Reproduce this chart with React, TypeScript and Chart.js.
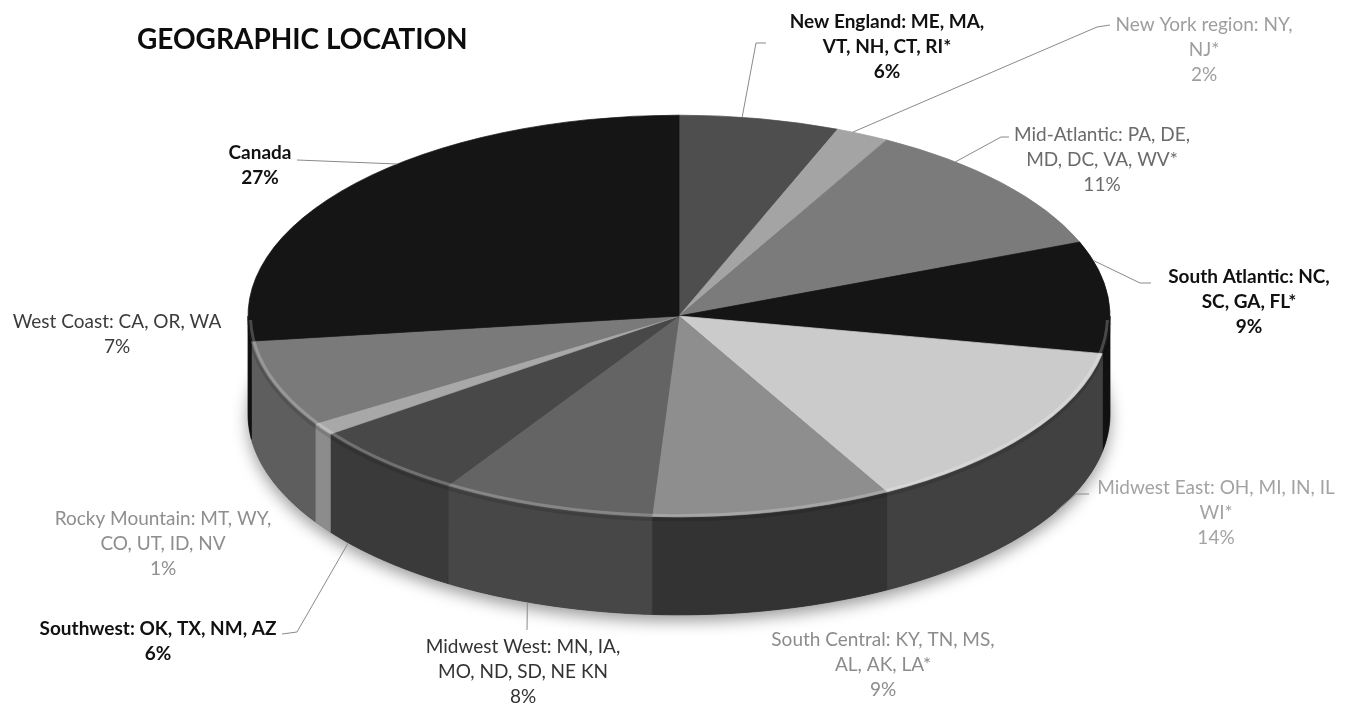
import React, { useEffect, useRef } from 'react';
import { Chart, registerables } from 'chart.js';

Chart.register(...registerables);

// ---------------- data ----------------
const TITLE = 'GEOGRAPHIC LOCATION';

const regions = [
  'New England', 'New York region', 'Mid-Atlantic', 'South Atlantic', 'Midwest East',
  'South Central', 'Midwest West', 'Southwest', 'Rocky Mountain', 'West Coast', 'Canada',
];

const labelLines = [
  ['New England: ME, MA,', 'VT, NH, CT, RI*'],
  ['New York region: NY,', 'NJ*'],
  ['Mid-Atlantic: PA, DE,', 'MD, DC, VA, WV*'],
  ['South Atlantic: NC,', 'SC, GA, FL*'],
  ['Midwest East: OH, MI, IN, IL', 'WI*'],
  ['South Central: KY, TN, MS,', 'AL, AK, LA*'],
  ['Midwest West: MN, IA,', 'MO, ND, SD, NE KN'],
  ['Southwest: OK, TX, NM, AZ'],
  ['Rocky Mountain: MT, WY,', 'CO, UT, ID, NV'],
  ['West Coast: CA, OR, WA'],
  ['Canada'],
];

const shares = [6, 2, 11, 9, 14, 9, 8, 6, 1, 7, 27];

// ---------------- styles ----------------
const topColors = ['#4e4e4e', '#a4a4a4', '#7b7b7b', '#151515', '#cbcbcb', '#8e8e8e', '#646464', '#484848', '#a8a8a8', '#7a7a7a', '#151515'];
const sideColors = ['#3a3a3a', '#7a7a7a', '#505050', '#111111', '#414141', '#333333', '#474747', '#3a3a3a', '#8c8c8c', '#5e5e5e', '#111111'];
const textColors = ['#111111', '#9e9e9e', '#6b6b6b', '#111111', '#a3a3a3', '#8c8c8c', '#333333', '#111111', '#8e8e8e', '#3c3c3c', '#111111'];
const textBold = [true, false, false, true, false, false, false, true, false, false, true];

// label layout: centre x, first line middle y, leader points (label side), rim fraction, bottom rim
const labelLayout = [
  { x: 887, y: 22, leader: [[766, 43], [756, 43]], frac: 0.39, bottom: false },
  { x: 1204, y: 25, leader: [[1110, 25], [1097, 27]], frac: 0.3, bottom: false },
  { x: 1102, y: 135, leader: [[1009, 137], [1001, 137]], frac: 0.28, bottom: false },
  { x: 1249, y: 277, leader: [[1151, 283], [1140, 283]], frac: 0.17, bottom: false },
  { x: 1216, y: 488, leader: [[1089, 494], [1076, 494]], frac: 0.36, bottom: true },
  { x: 883, y: 640, leader: null, frac: 0.5, bottom: true },
  { x: 523, y: 647, leader: [[527, 630]], frac: 0.59, bottom: true },
  { x: 158, y: 629, leader: [[282, 634], [297, 632]], frac: 0.82, bottom: true },
  { x: 163, y: 519, leader: null, frac: 0.5, bottom: true },
  { x: 117, y: 322, leader: null, frac: 0.5, bottom: false },
  { x: 260, y: 153, leader: [[297, 160]], frac: 0.58, bottom: false },
];

const W = 1348;
const H = 705;
const RADIUS = 431;
const SCALE_Y = 0.466;
const DEPTH = 98;
const LINE_H = 25;
const FONT = 'Lato, "Open Sans", sans-serif';

function arcGeom(chart: any) {
  const arcs = chart.getDatasetMeta(0).data as any[];
  if (!arcs.length) return null;
  const p = arcs[0].getProps(['x', 'y', 'outerRadius'], true);
  return { arcs, cx: p.x as number, cy: p.y as number, R: p.outerRadius as number };
}

const pie3d = {
  id: 'pie3d',
  beforeDatasetsDraw(chart: any) {
    const ctx = chart.ctx as CanvasRenderingContext2D;
    const g = arcGeom(chart);
    if (!g) return;
    const { arcs, cx, cy, R } = g;
    const s = SCALE_Y;
    // soft shadow under the pie
    ctx.save();
    ctx.beginPath();
    ctx.ellipse(cx, cy + DEPTH, R, R * s, 0, 0, Math.PI * 2);
    ctx.shadowColor = 'rgba(0,0,0,0.4)';
    ctx.shadowBlur = 16;
    ctx.shadowOffsetY = 6;
    ctx.fillStyle = '#333';
    ctx.fill();
    ctx.restore();
    // sides of the cylinder
    arcs.forEach((arc: any, i: number) => {
      const { startAngle, endAngle } = arc.getProps(['startAngle', 'endAngle'], true);
      const lo = Math.max(startAngle, 0);
      const hi = Math.min(endAngle, Math.PI);
      if (hi <= lo) return;
      const N = 80;
      ctx.beginPath();
      for (let k = 0; k <= N; k++) {
        const t = lo + ((hi - lo) * k) / N;
        const px = cx + R * Math.cos(t);
        const py = cy + s * R * Math.sin(t);
        if (k === 0) ctx.moveTo(px, py);
        else ctx.lineTo(px, py);
      }
      for (let k = N; k >= 0; k--) {
        const t = lo + ((hi - lo) * k) / N;
        ctx.lineTo(cx + R * Math.cos(t), cy + s * R * Math.sin(t) + DEPTH);
      }
      ctx.closePath();
      ctx.fillStyle = sideColors[i];
      ctx.fill();
      ctx.strokeStyle = sideColors[i];
      ctx.lineWidth = 0.8;
      ctx.stroke();
    });
    // squash the library's arcs into an ellipse (top face)
    ctx.save();
    ctx.translate(cx, cy);
    ctx.scale(1, s);
    ctx.translate(-cx, -cy);
  },
  afterDatasetsDraw(chart: any) {
    const ctx = chart.ctx as CanvasRenderingContext2D;
    ctx.restore();
    const g = arcGeom(chart);
    if (!g) return;
    const { cx, cy, R } = g;
    // bevel highlight on the front rim
    ctx.save();
    ctx.beginPath();
    ctx.ellipse(cx, cy, R - 2.5, (R - 2.5) * SCALE_Y, 0, 0.02, Math.PI - 0.02);
    ctx.strokeStyle = 'rgba(255,255,255,0.22)';
    ctx.lineWidth = 3;
    ctx.stroke();
    ctx.beginPath();
    ctx.ellipse(cx, cy + 3, R, R * SCALE_Y, 0, 0.02, Math.PI - 0.02);
    ctx.strokeStyle = 'rgba(0,0,0,0.12)';
    ctx.lineWidth = 3;
    ctx.stroke();
    ctx.restore();
  },
  afterDraw(chart: any) {
    const ctx = chart.ctx as CanvasRenderingContext2D;
    const g = arcGeom(chart);
    if (!g) return;
    const { arcs, cx, cy, R } = g;
    const total = shares.reduce((a, b) => a + b, 0);
    ctx.save();
    // title
    ctx.font = `bold 28px ${FONT}`;
    ctx.fillStyle = '#0d0d0d';
    ctx.textAlign = 'left';
    ctx.textBaseline = 'alphabetic';
    ctx.fillText(TITLE, 137, 49);
    // labels + leaders
    arcs.forEach((arc: any, i: number) => {
      const L = labelLayout[i];
      const { startAngle, endAngle } = arc.getProps(['startAngle', 'endAngle'], true);
      if (L.leader) {
        const t = startAngle + (endAngle - startAngle) * L.frac;
        const ex = cx + R * Math.cos(t);
        const ey = cy + SCALE_Y * R * Math.sin(t) + (L.bottom ? DEPTH : 0);
        ctx.beginPath();
        ctx.moveTo(L.leader[0][0], L.leader[0][1]);
        for (let k = 1; k < L.leader.length; k++) ctx.lineTo(L.leader[k][0], L.leader[k][1]);
        ctx.lineTo(ex, ey);
        ctx.strokeStyle = '#8a8a8a';
        ctx.lineWidth = 1;
        ctx.stroke();
      }
      const pct = `${Math.round((shares[i] / total) * 100)}%`;
      const lines = [...labelLines[i], pct];
      ctx.font = `${textBold[i] ? 'bold ' : ''}19px ${FONT}`;
      ctx.fillStyle = textColors[i];
      ctx.textAlign = 'center';
      ctx.textBaseline = 'middle';
      lines.forEach((ln, j) => ctx.fillText(ln, L.x, L.y + j * LINE_H));
    });
    ctx.restore();
  },
};

export default function App() {
  const canvasRef = useRef<HTMLCanvasElement | null>(null);

  useEffect(() => {
    const canvas = canvasRef.current;
    if (!canvas) return;
    const chart = new Chart(canvas, {
      type: 'pie',
      data: {
        labels: regions,
        datasets: [
          {
            data: shares,
            backgroundColor: topColors,
            borderColor: topColors,
            borderWidth: 1,
            radius: RADIUS,
            clip: false,
          } as any,
        ],
      },
      options: {
        responsive: false,
        animation: false,
        events: [],
        radius: RADIUS,
        layout: { padding: { left: 10, right: 0, top: 0, bottom: 73 } },
        plugins: {
          legend: { display: false },
          tooltip: { enabled: false },
          title: { display: false },
        },
      } as any,
      plugins: [pie3d],
    });
    return () => chart.destroy();
  }, []);

  return (
    <div style={{ position: 'absolute', left: 0, top: 0, width: W, height: H, background: '#fff' }}>
      <canvas ref={canvasRef} width={W} height={H} style={{ display: 'block', width: W, height: H }} />
    </div>
  );
}
